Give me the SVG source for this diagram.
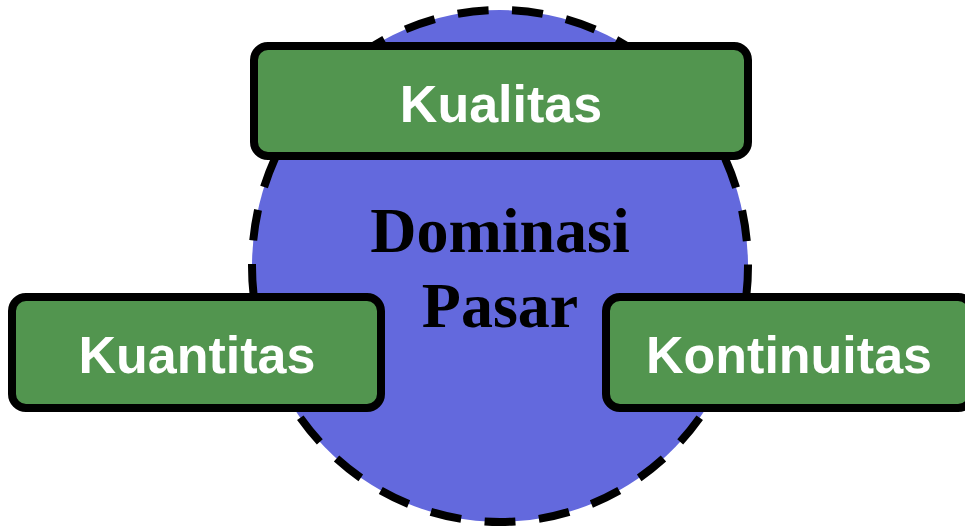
<svg xmlns="http://www.w3.org/2000/svg" width="965" height="526" viewBox="0 0 965 526">
<style>
.box{fill:#52954f;stroke:#000;stroke-width:8}
.lbl{font-family:"Liberation Sans",Arial,sans-serif;font-weight:bold;font-size:52px;fill:#fff;text-anchor:middle}
.core{font-family:"Liberation Serif","Times New Roman",serif;font-weight:bold;font-size:64px;fill:#000;text-anchor:middle}
</style>
<rect width="965" height="526" fill="#fff"/>
<g id="connectors"></g>
<g id="dominasi-pasar">
<ellipse cx="500" cy="266" rx="248" ry="256" fill="#6369dd" stroke="#000" stroke-width="8" stroke-dasharray="31 23.6" stroke-dashoffset="2"/>
<text class="core" x="500" y="252">Dominasi</text>
<text class="core" x="500" y="327">Pasar</text>
</g>
<g id="kualitas">
<rect class="box" x="254" y="46" width="494" height="110" rx="14"/>
<text class="lbl" x="501" y="122" font-size="53">Kualitas</text>
</g>
<g id="kuantitas">
<rect class="box" x="12" y="297" width="369" height="111" rx="14"/>
<text class="lbl" x="197" y="373">Kuantitas</text>
</g>
<g id="kontinuitas">
<rect class="box" x="606" y="297" width="366" height="111" rx="14"/>
<text class="lbl" x="789" y="373">Kontinuitas</text>
</g>
</svg>
